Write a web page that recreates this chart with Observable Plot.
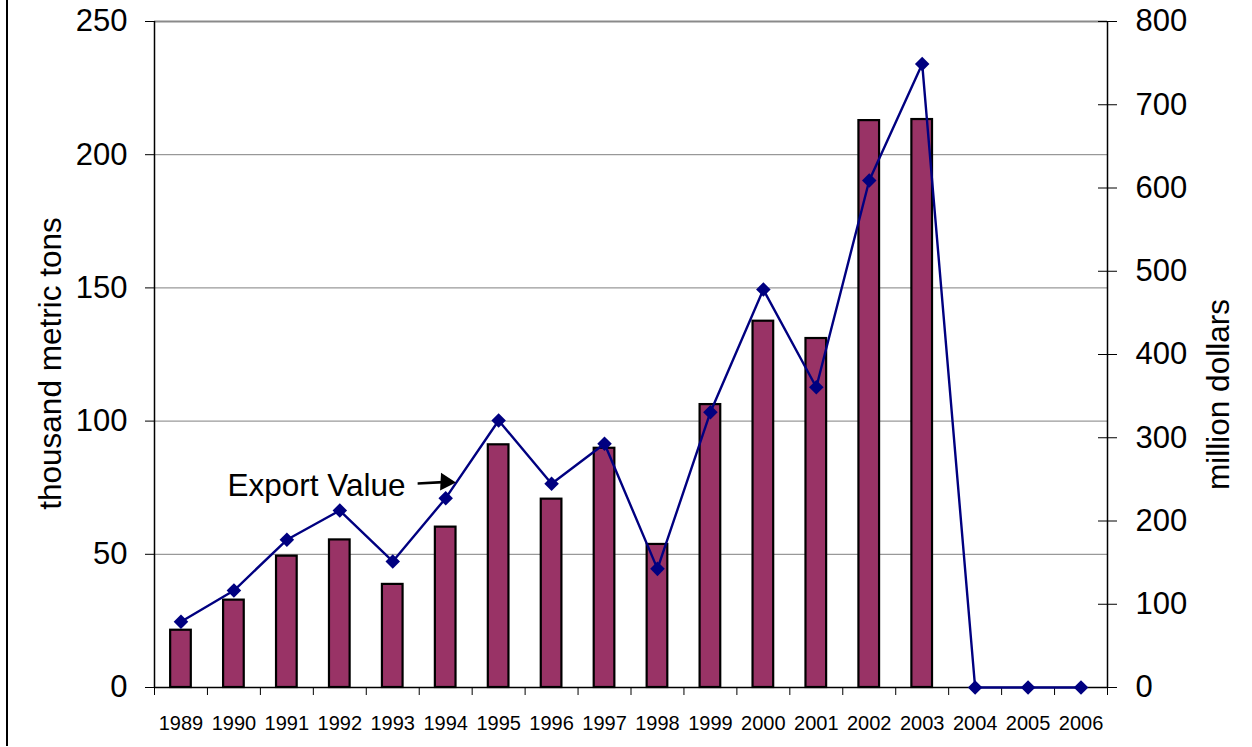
<!DOCTYPE html>
<html>
<head>
<meta charset="utf-8">
<script src="https://cdn.jsdelivr.net/npm/d3@7"></script>
<script src="https://cdn.jsdelivr.net/npm/@observablehq/plot@0.6"></script>
<style>
  html, body { margin: 0; padding: 0; background: #fff; }
  #wrap { position: relative; width: 1252px; height: 747px; overflow: hidden; }
  #border { position: absolute; left: 6px; top: 0; width: 2px; height: 746px; background: #000; }
</style>
</head>
<body>
<div id="wrap"><div id="border"></div></div>
<script>
// ---- data ----
const years = [1989,1990,1991,1992,1993,1994,1995,1996,1997,1998,1999,2000,2001,2002,2003,2004,2005,2006];
const tons = [21.5,32.8,49.3,55.4,38.7,60.2,91.1,70.7,89.8,53.7,106.2,137.5,131,212.8,213.2,0,0,0]; // thousand metric tons
const exportValue = [79,116.5,177.4,212.6,151.4,227.4,320.7,244.7,292.7,142.5,330.7,478,360.7,609,749,0,0,0]; // million dollars
const leftTicks = [0,50,100,150,200,250];
const rightTicks = [0,100,200,300,400,500,600,700,800];
const leftMax = 250, rightMax = 800;
const annotation = ["Export Value"];
const leftLabel = ["thousand metric tons"];
const rightLabel = ["million dollars"];

const data = years.map((y, i) => ({year: y, tons: tons[i], value: exportValue[i]}));
const toLeft = v => v * leftMax / rightMax;
const edges = years.map(y => y - 0.5).concat([years[years.length - 1] + 0.5]);
const font = "'Liberation Sans', Arial, sans-serif";

const chart = Plot.plot({
  width: 1252,
  height: 747,
  marginLeft: 154,
  marginRight: 145,
  marginTop: 21,
  marginBottom: 60,
  style: {fontFamily: font, background: "white", color: "black", overflow: "visible"},
  x: {type: "linear", domain: [edges[0], edges[edges.length - 1]]},
  y: {domain: [0, leftMax]},
  marks: [
    // gridlines
    Plot.ruleY(leftTicks.filter(d => d > 0 && d < leftMax), {y: d => d, stroke: "#808080", strokeWidth: 1}),
    Plot.ruleY([leftMax], {y: d => d, stroke: "#8a8a8a", strokeWidth: 2}),
    // bars
    Plot.rectY(data, {x1: d => d.year - 0.195, x2: d => d.year + 0.195, y1: 0, y2: "tons",
      fill: "#993366", stroke: "#000", strokeWidth: 2.2}),
    // axes lines
    Plot.ruleY([0], {y: d => d, stroke: "#000", strokeWidth: 1.5}),
    Plot.ruleX([edges[0]], {x: d => d, stroke: "#000", strokeWidth: 1.5}),
    Plot.ruleX([edges[edges.length - 1]], {x: d => d, stroke: "#000", strokeWidth: 1.5}),
    // left axis ticks + labels
    Plot.axisY(leftTicks, {anchor: "left", tickSize: 9, fill: "none", stroke: "#000", label: null}),
    Plot.axisY(leftTicks, {anchor: "left", tickSize: 0, tickPadding: 27, fontSize: 31, label: null, tickFormat: d => d}),
    // right axis ticks (crossing) + labels
    Plot.axisY(rightTicks.map(toLeft), {anchor: "right", tickSize: 19, dx: -10, fill: "none", stroke: "#000", label: null}),
    Plot.axisY(rightTicks.map(toLeft), {anchor: "right", tickSize: 0, tickPadding: 28, fontSize: 31, label: null,
      tickFormat: d => String(Math.round(d * rightMax / leftMax))}),
    // x axis ticks at category edges + year labels
    Plot.axisX(edges, {anchor: "bottom", tickSize: 8, fill: "none", stroke: "#000", label: null}),
    Plot.axisX(years, {anchor: "bottom", tickSize: 0, tickPadding: 28, fontSize: 20, label: null, tickFormat: d => String(d)}),
    // export value line
    Plot.line(data, {x: "year", y: d => toLeft(d.value), stroke: "#000080", strokeWidth: 2.4}),
    Plot.dot(data, {x: "year", y: d => toLeft(d.value), symbol: "square", rotate: 45, r: 5.8, fill: "#000080", stroke: "none"}),
    // annotation
    Plot.text(annotation, {x: 1989.88, y: 75.8, text: d => d, textAnchor: "start", fontSize: 31.5, fill: "#000"}),
    Plot.link(annotation, {x1: 1993.47, y1: 76.6, x2: 1993.95, y2: 77.1, stroke: "#000", strokeWidth: 2.6}),
    Plot.dot(annotation, {x: 1994.0, y: 77.15, symbol: "triangle", rotate: 93, r: 6.6, fill: "#000", stroke: "none"}),
    // axis titles
    Plot.text(leftLabel, {frameAnchor: "left", textAnchor: "middle", dx: -104, dy: 9, rotate: -90, text: d => d, fontSize: 31.5, fill: "#000"}),
    Plot.text(rightLabel, {frameAnchor: "right", textAnchor: "middle", dx: 111, dy: 40, rotate: -90, text: d => d, fontSize: 31.5, fill: "#000"})
  ]
});
document.getElementById("wrap").appendChild(chart);
</script>
</body>
</html>
